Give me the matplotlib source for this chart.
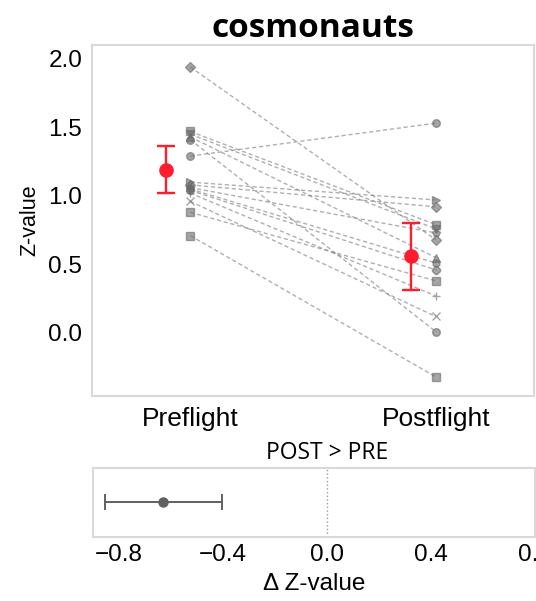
import numpy as np
import matplotlib.pyplot as plt

# paired Z-values per cosmonaut
pre = [1.94, 1.47, 1.45, 1.43, 1.41, 1.29, 1.10, 1.08, 1.06, 1.05, 1.04, 1.02, 0.96, 0.88, 0.71]
post = [0.68, 0.79, 0.76, 0.55, 0.01, 1.53, 0.97, 0.92, 0.73, 0.51, 0.46, 0.27, 0.12, 0.38, -0.32]
markers = ['D', 's', 'v', '^', 'o', 'o', '>', 'D', 'p', 'h', '8', '+', 'x', 's', 's']
conditions = ['Preflight', 'Postflight']

# group means with error bars
means = [1.19, 0.56]
errs = [0.17, 0.245]

# difference POST - PRE
delta_mean = -0.63
delta_lo = -0.855
delta_hi = -0.405

plt.rcParams['font.family'] = ['Liberation Sans', 'DejaVu Sans']
frame_col = '#d9d9d9'

fig = plt.figure(figsize=(5.36, 6.01), dpi=100)
ax = fig.add_axes([0.1716, 0.3411, 0.8246, 0.5840])

x = np.array([0, 1])
for a, b, m in zip(pre, post, markers):
    ax.plot(x, [a, b], color='#7a7a7a', linestyle='--', linewidth=1.0, alpha=0.6,
            dashes=(3, 2), marker=m, markersize=5.5,
            markerfacecolor='#6a6a6a', markeredgecolor='#6a6a6a')

ax.errorbar(x - 0.1, means, yerr=errs, fmt='o', color='#ff1c2c', markersize=9.5,
            capsize=6.5, elinewidth=1.7, capthick=1.7, zorder=5)

ax.set_xlim(-0.4, 1.4)
ax.set_ylim(-0.46, 2.1)
ax.set_xticks(x)
ax.set_xticklabels(conditions, fontsize=19)
ax.set_yticks([0.0, 0.5, 1.0, 1.5, 2.0])
ax.tick_params(axis='y', labelsize=17.5, length=0, pad=7)
ax.tick_params(axis='x', length=0, pad=8)
ax.set_ylabel('Z-value', fontsize=15.5, labelpad=6)
for s in ax.spines.values():
    s.set_color(frame_col)
    s.set_linewidth(1.5)
ax.set_title('cosmonauts', fontsize=24, fontweight='bold',
             family=['Open Sans', 'DejaVu Sans'], pad=2)

# bottom panel: delta
ax2 = fig.add_axes([0.1735, 0.1065, 0.8246, 0.1148])
ax2.errorbar([delta_mean], [0], xerr=[[delta_mean - delta_lo], [delta_hi - delta_mean]],
             fmt='o', color='#606060', markersize=6.5, capsize=6, elinewidth=1.4, capthick=1.4)
ax2.axvline(0, color='#999999', linestyle=':', linewidth=1)
ax2.set_xlim(-0.9, 0.8)
ax2.set_ylim(-1, 1)
ax2.set_xticks([-0.8, -0.4, 0.0, 0.4, 0.8])
ax2.set_yticks([])
ax2.tick_params(axis='x', labelsize=17.5, length=0, pad=5)
ax2.set_xlabel('\u0394 Z-value', fontsize=17.5, labelpad=5)
for s in ax2.spines.values():
    s.set_color(frame_col)
    s.set_linewidth(1.5)
ax2.text(0.0, 1.04, 'POST > PRE', transform=ax2.get_xaxis_transform(), ha='center', va='bottom',
         fontsize=16.5, family=['Open Sans', 'DejaVu Sans'])

fig.savefig('out.png', dpi=100)
